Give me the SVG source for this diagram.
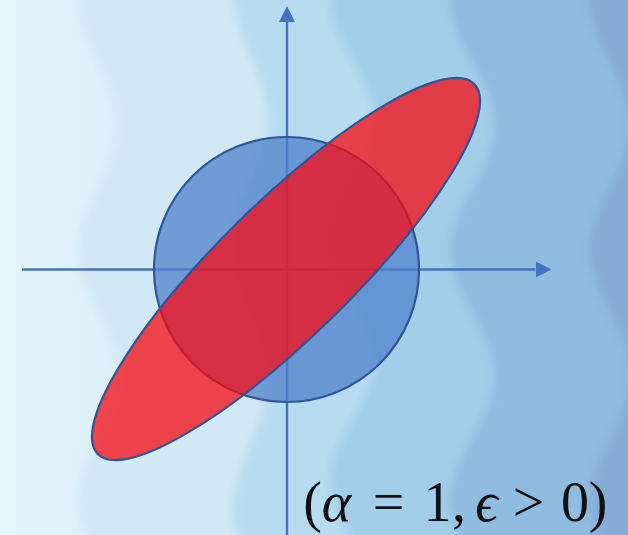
<svg xmlns="http://www.w3.org/2000/svg" width="628" height="535" viewBox="0 0 628 535">
  <defs>
    <linearGradient id="bg" x1="0" y1="0" x2="120" y2="0" gradientUnits="userSpaceOnUse">
      <stop offset="0" stop-color="#e6f4fa"/>
      <stop offset="1" stop-color="#dbeef7"/>
    </linearGradient>
    <filter id="soft" x="-20%" y="-20%" width="140%" height="140%">
      <feGaussianBlur stdDeviation="5"/>
    </filter>
    <marker id="arrow" viewBox="0 0 16 16" refX="0" refY="8" markerWidth="16" markerHeight="16" markerUnits="userSpaceOnUse" orient="auto">
      <path d="M0,0 L16,8 L0,16 Z" fill="#4472c4"/>
    </marker>
    <style>
      .axis { stroke: #4472c4; stroke-width: 2.5; fill: none; marker-end: url(#arrow); }
      .shape { stroke: #2f5597; stroke-width: 2.2; }
      .label { font-family: "Liberation Serif", "DejaVu Serif", serif; font-size: 56px; fill: #111; }
    </style>
  </defs>

  <g id="background">
    <rect x="0" y="0" width="628" height="535" fill="url(#bg)"/>
    <g filter="url(#soft)">
      <path fill="#d1e9f4" d="M700,-200 L118,-125 C118,-79.5 78,-45.5 78,0 C78,45.5 118,79.5 118,125 C118,170.5 78,204.5 78,250 C78,295.5 118,329.5 118,375 C118,420.5 78,454.5 78,500 C78,545.5 118,579.5 118,625 L700,700 Z"/>
      <path fill="#b7dcf0" d="M700,-200 L267,-140 C267,-92.7 233,-57.3 233,-10 C233,37.3 267,72.7 267,120 C267,167.3 233,202.7 233,250 C233,297.3 267,332.7 267,380 C267,427.3 233,462.7 233,510 C233,557.3 267,592.7 267,640 L700,700 Z"/>
      <path fill="#a3cee9" d="M700,-200 L374,-120 C374,-76.3 330,-43.7 330,0 C330,43.7 374,76.3 374,120 C374,163.7 330,196.3 330,240 C330,283.7 374,316.3 374,360 C374,403.7 330,436.3 330,480 C330,523.7 374,556.3 374,600 L700,700 Z"/>
      <path fill="#90bce0" d="M700,-200 L494,-125 C494,-79.5 450,-45.5 450,0 C450,45.5 494,79.5 494,125 C494,170.5 450,204.5 450,250 C450,295.5 494,329.5 494,375 C494,420.5 450,454.5 450,500 C450,545.5 494,579.5 494,625 L700,700 Z"/>
      <path fill="#88abd5" d="M700,-200 L590,0 C590,45.5 630,79.5 630,125 C630,170.5 590,204.5 590,250 C590,295.5 630,329.5 630,375 C630,420.5 590,454.5 590,500 C590,545.5 630,579.5 630,625 L700,700 Z"/>
    </g>
  </g>

  <g id="connectors">
    <line class="axis" x1="22" y1="269.5" x2="535.5" y2="269.5"/>
    <line class="axis" x1="287" y1="540" x2="287" y2="22"/>
  </g>

  <g id="circle">
    <circle class="shape" cx="286.5" cy="269.5" r="132.5" fill="#4f80cb" fill-opacity="0.75"/>
  </g>

  <g id="ellipse">
    <ellipse class="shape" cx="0" cy="0" rx="264" ry="67" transform="translate(286,269) rotate(-44.5)" fill="#f80a10" fill-opacity="0.74"/>
  </g>

  <g id="label">
    <text class="label" y="521" text-anchor="middle"><tspan x="312.5">(</tspan><tspan x="336.5" font-style="italic">α</tspan><tspan x="388.5">=</tspan><tspan x="437.5">1</tspan><tspan x="459">,</tspan><tspan x="486.5" font-style="italic">ϵ</tspan><tspan x="528.5">&gt;</tspan><tspan x="575">0</tspan><tspan x="598">)</tspan></text>
  </g>
</svg>
